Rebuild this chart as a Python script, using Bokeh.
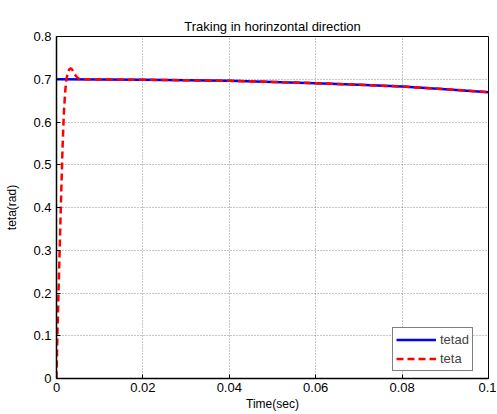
from bokeh.plotting import figure
from bokeh.models import Range1d, FixedTicker, Legend, LegendItem
from bokeh.embed import file_html
from bokeh.resources import INLINE

t_d = [0.0, 0.01, 0.02, 0.03, 0.04, 0.05, 0.06, 0.07, 0.08, 0.09, 0.1]
tetad = [0.700, 0.6997, 0.6988, 0.6976, 0.6962, 0.6938, 0.6908, 0.6872, 0.6830, 0.6768, 0.6697]

t_a = [0.0, 0.0002, 0.0006, 0.0010, 0.0014, 0.0017, 0.0020, 0.0023, 0.0026, 0.0030, 0.0034,
       0.0038, 0.0042, 0.0047, 0.0052, 0.0058, 0.01, 0.02, 0.03, 0.04, 0.05, 0.06, 0.07,
       0.08, 0.09, 0.1]
teta = [0.0, 0.10, 0.25, 0.40, 0.54, 0.62, 0.67, 0.70, 0.715, 0.724, 0.725,
        0.720, 0.712, 0.705, 0.701, 0.700, 0.6997, 0.6988, 0.6976, 0.6962, 0.6938, 0.6908, 0.6872,
        0.6830, 0.6768, 0.6697]

x_ticks = [0, 0.02, 0.04, 0.06, 0.08, 0.1]
x_labels = ["0", "0.02", "0.04", "0.06", "0.08", "0.1"]
y_ticks = [0, 0.1, 0.2, 0.3, 0.4, 0.5, 0.6, 0.7, 0.8]
y_labels = ["0", "0.1", "0.2", "0.3", "0.4", "0.5", "0.6", "0.7", "0.8"]

FONT = "Liberation Sans"

p = figure(width=496, height=413, output_backend="svg", toolbar_location=None,
           x_range=Range1d(0, 0.1), y_range=Range1d(0, 0.8),
           title="Traking in horinzontal direction",
           min_border_left=56, min_border_right=8, min_border_top=36, min_border_bottom=34)
p.title.align = "center"
p.title.text_font = FONT
p.title.text_font_size = "13px"
p.title.text_font_style = "normal"
p.title.text_color = "black"
p.title.standoff = 6

p.outline_line_color = "black"
p.outline_line_width = 1
p.outline_line_alpha = 1

for ax, ticks, labels in ((p.xaxis[0], x_ticks, x_labels), (p.yaxis[0], y_ticks, y_labels)):
    ax.ticker = FixedTicker(ticks=ticks)
    ax.major_label_overrides = {tk: lb for tk, lb in zip(ticks, labels)}
    ax.major_tick_in = 4
    ax.major_tick_out = 0
    ax.minor_tick_in = 0
    ax.minor_tick_out = 0
    ax.axis_line_color = "black"
    ax.axis_line_width = 1.5
    ax.major_tick_line_color = "black"
    ax.major_label_text_font = FONT
    ax.major_label_text_font_size = "13px"
    ax.major_label_text_color = "black"
    ax.axis_label_text_font = FONT
    ax.axis_label_text_font_size = "12px"
    ax.axis_label_text_font_style = "normal"
    ax.axis_label_text_color = "black"

p.xaxis.axis_label = "Time(sec)"
p.yaxis.axis_label = "teta(rad)"
p.xaxis.major_label_standoff = 4
p.yaxis.major_label_standoff = 5
p.xaxis.axis_label_standoff = 2
p.yaxis.axis_label_standoff = 11

p.grid.grid_line_color = "black"
p.grid.grid_line_alpha = 0.45
p.grid.grid_line_dash = "1 2"
p.grid.grid_line_width = 1
p.xgrid.ticker = FixedTicker(ticks=x_ticks)
p.ygrid.ticker = FixedTicker(ticks=y_ticks)

r1 = p.line(t_d, tetad, line_color="#0000ff", line_width=2.5)
r2 = p.line(t_a, teta, line_color="#ff0000", line_width=2.5, line_dash="7 4")

legend = Legend(items=[LegendItem(label="tetad", renderers=[r1]),
                       LegendItem(label="teta", renderers=[r2])],
                location=(336, 7))
legend.label_text_font = FONT
legend.label_text_font_size = "13px"
legend.border_line_color = "black"
legend.border_line_width = 1
legend.glyph_width = 40
legend.glyph_height = 17
legend.label_height = 17
legend.spacing = 2
legend.padding = 3
legend.margin = 0
legend.label_standoff = 4
legend.background_fill_alpha = 1
p.add_layout(legend)

open("out.html", "w").write(file_html(p, INLINE))
